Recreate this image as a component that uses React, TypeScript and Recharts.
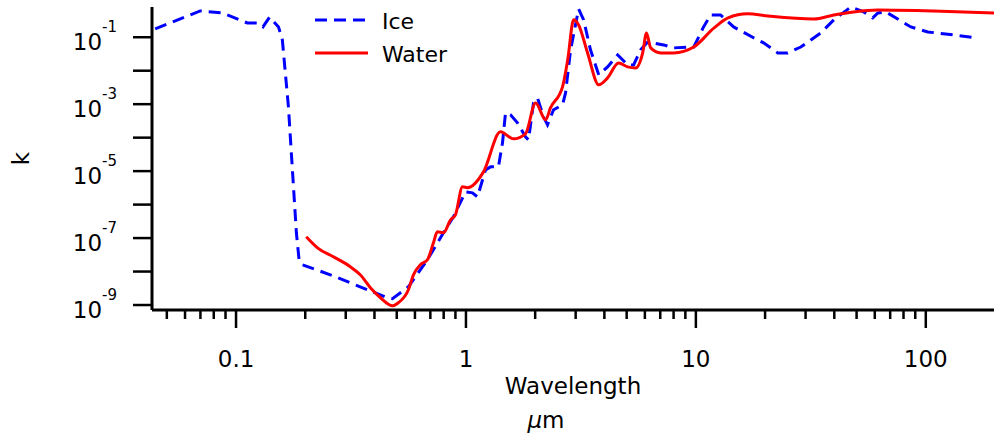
import React from "react";
import { LineChart, Line, XAxis, YAxis, Legend } from "recharts";

// wavelength in µm, imaginary refractive index k
const iceWavelength = [
  0.0445, 0.0698, 0.0871, 0.112, 0.124, 0.131, 0.14, 0.153, 0.159, 0.169,
  0.183, 0.188, 0.194, 0.257, 0.455, 0.479, 0.562, 0.68, 0.798, 0.882,
  0.995, 1.067, 1.122, 1.216, 1.279, 1.384, 1.442, 1.486, 1.562, 1.675,
  1.815, 1.871, 1.967, 2.047, 2.174, 2.263, 2.404, 2.631, 2.711, 2.851,
  3.09, 3.25, 3.48, 3.78, 4.13, 4.57, 5.05, 5.36, 5.75, 6.17,
  7.24, 8.0, 9.79, 10.8, 11.6, 12.8, 14.6, 17.9, 19.7, 22.7,
  25.1, 28.6, 34.9, 39.8, 47.2, 53.7, 58.8, 61.9, 67.0, 86.1,
  102, 132, 168.6,
];
const iceK = [
  0.177, 0.61, 0.53, 0.267, 0.267, 0.203, 0.4, 0.203, 0.083, 8.3e-4,
  1.44e-7, 2.25e-8, 1.6e-8, 8.0e-9, 1.65e-9, 1.54e-9, 3.5e-9, 2.25e-8, 1.44e-7, 4.3e-7,
  2.4e-6, 2.25e-6, 1.7e-6, 1.09e-5, 1.34e-5, 1.34e-5, 7.0e-5, 5.5e-4, 4.8e-4, 2.77e-4,
  1.06e-4, 8.6e-5, 1.09e-3, 1.54e-3, 4.2e-4, 2.4e-4, 6.8e-4, 9.5e-4, 2.17e-3, 0.0418,
  0.7, 0.33, 0.042, 7.5e-3, 0.013, 0.0296, 0.0149, 0.0149, 0.042, 0.072,
  0.059, 0.048, 0.051, 0.203, 0.463, 0.463, 0.203, 0.095, 0.068, 0.034,
  0.034, 0.051, 0.134, 0.33, 0.8, 0.57, 0.377, 0.53, 0.57, 0.203,
  0.144, 0.117, 0.095,
];

const waterWavelength = [
  0.202, 0.226, 0.265, 0.314, 0.347, 0.384, 0.425, 0.479, 0.508, 0.562,
  0.591, 0.634, 0.68, 0.722, 0.751, 0.798, 0.857, 0.9, 0.966, 1.015,
  1.192, 1.413, 1.61, 1.815, 2.009, 2.22, 2.33, 2.63, 2.77, 2.94,
  3.09, 3.38, 3.78, 4.13, 4.61, 5.05, 5.47, 5.87, 6.1, 6.36,
  7.03, 8.0, 9.79, 12.0, 13.8, 16.8, 20.6, 32.6, 39.8, 48.6,
  61.9, 108, 198,
];
const waterK = [
  1.09e-7, 5.1e-8, 2.77e-8, 1.39e-8, 8.0e-9, 3.3e-9, 1.65e-9, 9.5e-10, 1.17e-9, 2.86e-9,
  8.0e-9, 1.6e-8, 2.25e-8, 7.2e-8, 1.54e-7, 1.44e-7, 3.5e-7, 4.95e-7, 3.4e-6, 3.2e-6,
  9.5e-6, 1.49e-4, 9.2e-5, 1.3e-4, 1.09e-3, 3.4e-4, 7.7e-4, 3.3e-3, 0.021, 0.33,
  0.233, 0.034, 3.8e-3, 6.1e-3, 0.0171, 0.013, 0.0121, 0.034, 0.134, 0.048,
  0.034, 0.034, 0.051, 0.19, 0.377, 0.5, 0.43, 0.35, 0.46, 0.57,
  0.65, 0.61, 0.53,
];

const xTicks = [
  0.05, 0.06, 0.07, 0.08, 0.09, 0.1, 0.2, 0.3, 0.4, 0.5, 0.6, 0.7, 0.8, 0.9,
  1, 2, 3, 4, 5, 6, 7, 8, 9, 10, 20, 30, 40, 50, 60, 70, 80, 90, 100,
];
const yTicks = [1e-9, 1e-8, 1e-7, 1e-6, 1e-5, 1e-4, 1e-3, 1e-2, 1e-1];

const iceData = iceWavelength.map((x, i) => ({ x, k: iceK[i] }));
const waterData = waterWavelength.map((x, i) => ({ x, k: waterK[i] }));

const FONT = "'DejaVu Sans', sans-serif";

const isDecade = (v: number) => {
  const l = Math.log10(v);
  return Math.abs(l - Math.round(l)) < 1e-6;
};

function XTick(props: any) {
  const { x, y, payload } = props;
  const major = isDecade(payload.value);
  return (
    <g>
      <line x1={x} x2={x} y1={y} y2={y + (major ? 18 : 9)} stroke="#000" strokeWidth={2.5} />
      {major && (
        <text x={x} y={y + 57} textAnchor="middle" fontFamily={FONT} fontSize={23} fill="#000">
          {String(payload.value)}
        </text>
      )}
    </g>
  );
}

function YTick(props: any) {
  const { x, y, payload } = props;
  const e = Math.round(Math.log10(payload.value));
  if (e % 2 === 0) return <g />;
  return (
    <text x={x} y={y + 13} textAnchor="end" fontFamily={FONT} fontSize={23} fill="#000">
      <tspan>10</tspan>
      <tspan dy={-18} fontSize={15}>{String(e)}</tspan>
    </text>
  );
}

function XLabel(props: any) {
  const { viewBox } = props;
  const cx = viewBox.x + viewBox.width / 2;
  return (
    <g fontFamily={FONT} fontSize={23} fill="#000">
      <text x={cx} y={viewBox.y + 84} textAnchor="middle">Wavelength</text>
      <text x={cx - 27} y={viewBox.y + 118} textAnchor="middle">
        <tspan fontStyle="italic">µ</tspan>m
      </text>
    </g>
  );
}

function YLabel(props: any) {
  const { viewBox } = props;
  const cy = viewBox.y + viewBox.height / 2;
  return (
    <text x={29} y={cy} transform={`rotate(-90, 29, ${cy})`} textAnchor="middle"
      fontFamily={FONT} fontSize={23} fill="#000">k</text>
  );
}

function LegendBox(props: any) {
  const items = props.payload || [];
  return (
    <svg width={170} height={70}>
      {items.map((it: any, i: number) => (
        <g key={it.value}>
          <line x1={15} x2={68} y1={20 + i * 33} y2={20 + i * 33} stroke={it.color} strokeWidth={3}
            strokeDasharray={it.payload?.strokeDasharray} />
          <text x={82} y={28.5 + i * 33.5} fontFamily={FONT} fontSize={22} fill="#000">{it.value}</text>
        </g>
      ))}
    </svg>
  );
}

export default function App() {
  return (
    <div style={{ position: "absolute", left: 0, top: 0, background: "#fff" }}>
      <LineChart width={994} height={435} margin={{ top: 7, right: 0, bottom: 0, left: 0 }}>
        <XAxis
          dataKey="x"
          type="number"
          scale="log"
          domain={[0.0431, 198]}
          allowDataOverflow
          ticks={xTicks}
          interval={0}
          height={125}
          tickLine={false}
          tickSize={0}
          tickMargin={0}
          tick={<XTick />}
          axisLine={{ stroke: "#000", strokeWidth: 3 }}
          label={<XLabel />}
        />
        <YAxis
          dataKey="k"
          type="number"
          scale="log"
          domain={[7.1e-10, 0.8]}
          allowDataOverflow
          ticks={yTicks}
          interval={0}
          width={152}
          tickSize={19}
          tickMargin={16}
          tickLine={{ stroke: "#000", strokeWidth: 2.5 }}
          tick={<YTick />}
          axisLine={{ stroke: "#000", strokeWidth: 3 }}
          label={<YLabel />}
        />
        <Legend
          layout="horizontal"
          verticalAlign="middle"
          align="center"
          wrapperStyle={{ left: 300, top: 0, width: 170, height: 70 }}
          content={<LegendBox />}
        />
        <Line data={iceData} dataKey="k" name="Ice" type="linear" stroke="#0000ff" strokeWidth={3}
          strokeDasharray="12 7" dot={false} isAnimationActive={false} />
        <Line data={waterData} dataKey="k" name="Water" type="monotone" stroke="#ff0000" strokeWidth={3}
          dot={false} isAnimationActive={false} />
      </LineChart>
    </div>
  );
}
